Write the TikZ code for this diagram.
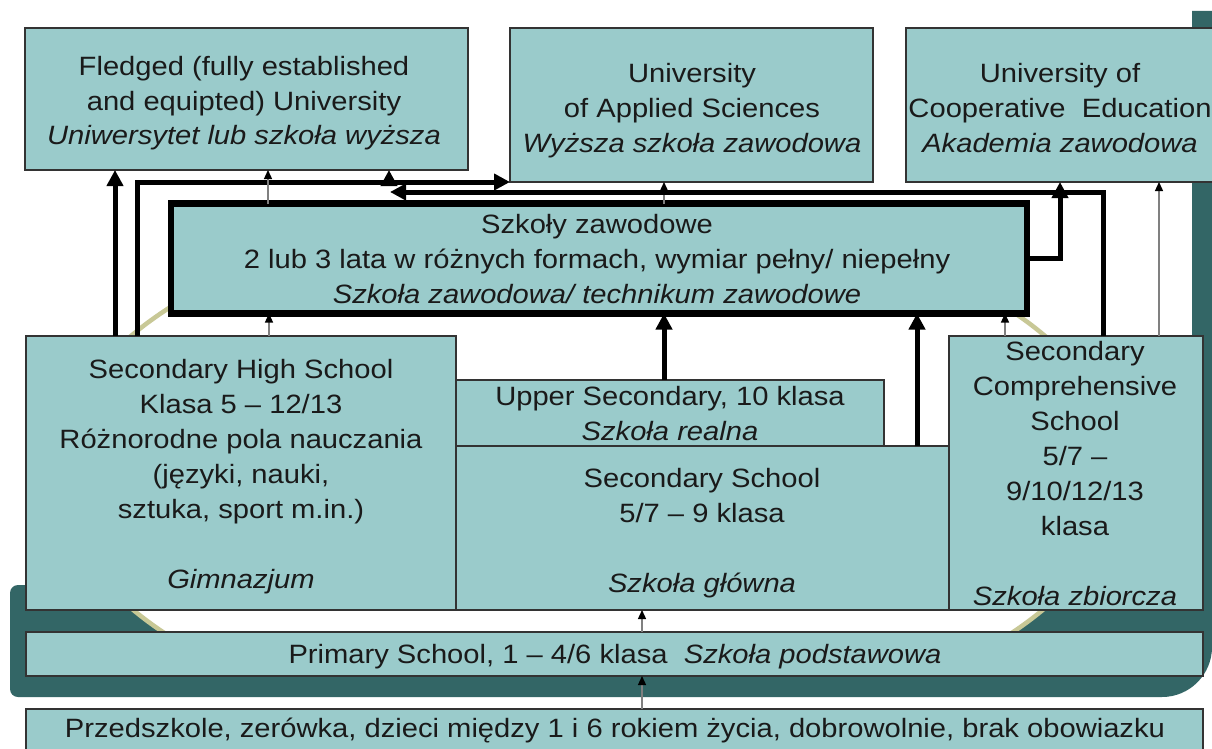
\documentclass[tikz,border=0pt]{standalone}
\usepackage{fontspec}
\setmainfont{Liberation Sans}[FakeStretch=1.1]
\usetikzlibrary{arrows.meta,calc}
\definecolor{boxfill}{HTML}{9ACBCB}
\definecolor{boxline}{HTML}{333333}
\definecolor{bandcol}{HTML}{336666}
\definecolor{arccol}{HTML}{C8C896}
\definecolor{thingray}{HTML}{808080}
\definecolor{txtcol}{HTML}{1A1A1A}
\begin{document}
\begin{tikzpicture}[x=1pt,y=-1pt,
  box/.style={draw=boxline,fill=boxfill,line width=1.2pt,inner sep=0pt,outer sep=0pt,anchor=north west},
  bigbox/.style={draw=black,fill=boxfill,line width=6.5pt,inner sep=0pt,outer sep=0pt,anchor=north west},
  txt/.style={align=center,inner sep=0pt,text=txtcol,font=\fontsize{26.5}{35}\selectfont},
  thk/.style={draw=black,line width=5pt,-{Triangle[length=16pt,width=16pt]}},
  thkline/.style={draw=black,line width=5pt},
  thn/.style={draw=thingray,line width=1.3pt,-{Triangle[length=9pt,width=8pt,color=black]}}]
\clip (0,0) rectangle (1212,749);
\fill[white] (0,0) rectangle (1212,749);
% dark band
\fill[bandcol] (10,593) .. controls (10,588.6) and (13.6,585) .. (18,585)
  -- (1192,585) -- (1192,11) -- (1212,11) -- (1212,647)
  .. controls (1212,674.6) and (1189.6,697) .. (1162,697)
  -- (18,697) .. controls (13.6,697) and (10,693.4) .. (10,689) -- cycle;
% white ellipse
\begin{scope}
\clip (0,0) rectangle (1212,655);
\filldraw[fill=white,draw=arccol,line width=4.5pt] (588,472) ellipse [x radius=531pt,y radius=267pt];
\end{scope}
% boxes
\node[box,minimum width=443pt,minimum height=142pt] (f1) at (25,28) {};
\node[box,minimum width=363pt,minimum height=154pt] (f2) at (510,28) {};
\node[box,minimum width=320pt,minimum height=154pt] (f3) at (906,28) {};
\node[bigbox,minimum width=856pt,minimum height=110pt] (sz) at (171,203.5) {};
\node[box,minimum width=430pt,minimum height=274pt] (sh) at (26,336) {};
\node[box,minimum width=428pt,minimum height=66pt] (us) at (456,380) {};
\node[box,minimum width=493pt,minimum height=164pt] (ss) at (456,446) {};
\node[box,minimum width=254pt,minimum height=274pt] (sc) at (949,336) {};
\node[box,minimum width=1177pt,minimum height=44pt] (pr) at (26,632) {};
\node[box,minimum width=1177pt,minimum height=60pt] (pz) at (26,709) {};
\coordinate (m1) at (390,192);
% connectors
\draw[thk] (115,0 |- sh.north) -- (115,0 |- f1.south);
\draw[thk] (137,0 |- sh.north) |- (f2.south west);
\draw[thk] (389,0 |- f2.south) -- (389,0 |- f1.south);
\draw[thn] (268,0 |- sz.north) -- (268,0 |- f1.south);
\draw[thn] (269,0 |- sh.north) -- (269,0 |- sz.south);
\draw[thn] (664,0 |- sz.north) -- (664,0 |- f2.south);
\draw[thk] (664,0 |- us.north) -- (664,0 |- sz.south);
\draw[thk] (917,0 |- ss.north) -- (917,0 |- sz.south);
\draw[thn] (1005,0 |- sc.north) -- (1005,0 |- sz.south);
\draw[thk] (sz.east) -| (1060,0 |- f3.south);
\draw[thk] (1103,0 |- sc.north) |- (m1);
\draw[thn] (1159,0 |- sc.north) -- (1159,0 |- f3.south);
\draw[thn] (642,0 |- pr.north) -- (642,0 |- ss.south);
\draw[thn] (642,0 |- pz.north) -- (642,0 |- pr.south);
% texts
\node[txt] (t1) at (244,103) {\strut Fledged (fully established\\ \strut and equipted) University\\ \strut\textit{Uniwersytet lub szkoła wyższa}};
\node[txt] (t2) at (692,110) {\strut University\\ \strut of Applied Sciences\\ \strut\textit{Wyższa szkoła zawodowa}};
\node[txt] (t3) at (1060,110) {\strut University of\\ \strut Cooperative\ \ Education\\ \strut\textit{Akademia zawodowa}};
\node[txt] (tsz) at (597,261) {\strut Szkoły zawodowe\\ \strut 2 lub 3 lata w różnych formach, wymiar pełny/ niepełny\\ \strut\textit{Szkoła zawodowa/ technikum zawodowe}};
\node[txt] (tsh) at (241,476) {\strut Secondary High School\\ \strut Klasa 5 – 12/13\\ \strut Różnorodne pola nauczania\\ \strut (języki, nauki,\\ \strut sztuka, sport m.in.)\\ \strut\\ \strut\textit{Gimnazjum}};
\node[txt] (tus) at (670,415.5) {\strut Upper Secondary, 10 klasa\\ \strut\textit{Szkoła realna}};
\node[txt] (tss) at (702,532.5) {\strut Secondary School\\ \strut 5/7 – 9 klasa\\ \strut\\ \strut\textit{Szkoła główna}};
\node[txt] (tsc) at (1075,475.5) {\strut Secondary\\ \strut Comprehensive\\ \strut School\\ \strut 5/7 –\\ \strut 9/10/12/13\\ \strut klasa\\ \strut\\ \strut\textit{Szkoła zbiorcza}};
\node[txt] (tpr) at (615,656) {\strut Primary School, 1 – 4/6 klasa\ \ \textit{Szkoła podstawowa}};
\node[txt] (tpz) at (615,730) {\strut Przedszkole, zerówka, dzieci między 1 i 6 rokiem życia, dobrowolnie, brak obowiazku};
\end{tikzpicture}
\end{document}
